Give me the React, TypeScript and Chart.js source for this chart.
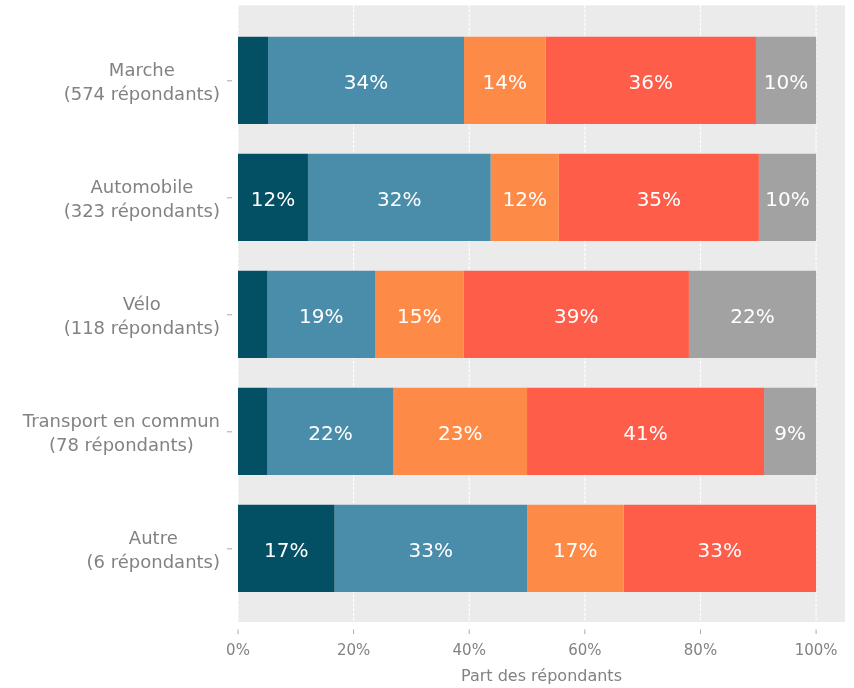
import React, { useEffect, useRef } from 'react';
import { Chart, registerables } from 'chart.js';

Chart.register(...registerables);

const categories: string[][] = [
  ['Marche', '(574 répondants)'],
  ['Automobile', '(323 répondants)'],
  ['Vélo', '(118 répondants)'],
  ['Transport en commun', '(78 répondants)'],
  ['Autre', '(6 répondants)'],
];

const seriesNames = ['Niveau 1', 'Niveau 2', 'Niveau 3', 'Niveau 4', 'Niveau 5'];
const series1 = [5.2, 12.1, 5.1, 5.1, 16.7];
const series2 = [33.9, 31.6, 18.6, 21.8, 33.3];
const series3 = [14.1, 11.8, 15.3, 23.1, 16.7];
const series4 = [36.4, 34.6, 39.0, 41.0, 33.3];
const series5 = [10.4, 9.9, 22.0, 9.0, 0];
const xTickValues = [0, 20, 40, 60, 80, 100];

const seriesColors = ['#034f63', '#4a8dab', '#fe8a48', '#fe5d4a', '#a2a2a2'];
const FONT = "'DejaVu Sans', Verdana, sans-serif";
const TEXT_GRAY = '#828282';

const panelPlugin = {
  id: 'panelPlugin',
  beforeDatasetsDraw(chart: any) {
    const { ctx, chartArea } = chart;
    const { left, right, top, bottom } = chartArea;
    const pTop = top - 16.5;
    const pBottom = bottom + 15.2;
    ctx.save();
    ctx.fillStyle = '#ebebeb';
    ctx.fillRect(left, pTop, right - left, pBottom - pTop);
    const xs = chart.scales.x;
    ctx.strokeStyle = '#ffffff';
    ctx.lineWidth = 1.2;
    ctx.setLineDash([3, 1.5]);
    xTickValues.forEach((v) => {
      const px = xs.getPixelForValue(v);
      ctx.beginPath();
      ctx.moveTo(px, pTop);
      ctx.lineTo(px, pBottom);
      ctx.stroke();
    });
    ctx.restore();
  },
  afterDraw(chart: any) {
    const { ctx, chartArea } = chart;
    const xs = chart.scales.x;
    const ys = chart.scales.y;
    ctx.save();
    ctx.strokeStyle = '#a8a8a8';
    ctx.lineWidth = 1;
    const pBottom = chartArea.bottom + 15.2;
    xTickValues.forEach((v) => {
      const px = xs.getPixelForValue(v);
      ctx.beginPath();
      ctx.moveTo(px, pBottom + 7.5);
      ctx.lineTo(px, pBottom + 12);
      ctx.stroke();
    });
    categories.forEach((_, i) => {
      const py = ys.getPixelForTick(i);
      ctx.beginPath();
      ctx.moveTo(chartArea.left - 11, py + 0.5);
      ctx.lineTo(chartArea.left - 6, py + 0.5);
      ctx.stroke();
    });
    // y-axis category labels: block right-aligned, lines centred within block
    ctx.fillStyle = TEXT_GRAY;
    ctx.font = `18px ${FONT}`;
    ctx.textAlign = 'center';
    ctx.textBaseline = 'middle';
    const lh = 24.5;
    categories.forEach((lines, i) => {
      const py = ys.getPixelForTick(i) + 2.8;
      const blockW = Math.max(...lines.map((l) => ctx.measureText(l).width));
      const cx = chartArea.left - 18 - blockW / 2;
      const startY = py - ((lines.length - 1) * lh) / 2;
      lines.forEach((l, k) => ctx.fillText(l, cx, startY + k * lh));
    });
    ctx.restore();
  },
};

const labelPlugin = {
  id: 'labelPlugin',
  afterDatasetsDraw(chart: any) {
    const { ctx } = chart;
    ctx.save();
    ctx.fillStyle = '#ffffff';
    ctx.font = `20px ${FONT}`;
    ctx.textAlign = 'center';
    ctx.textBaseline = 'middle';
    chart.data.datasets.forEach((ds: any, i: number) => {
      const meta = chart.getDatasetMeta(i);
      meta.data.forEach((el: any, j: number) => {
        const v = ds.data[j];
        if (v < 8) return;
        const c = el.getCenterPoint();
        ctx.fillText(`${Math.round(v)}%`, c.x, c.y + 3.2);
      });
    });
    ctx.restore();
  },
};

function zeroPadding(scale: any) {
  scale.paddingTop = 0;
  scale.paddingBottom = 0;
  scale.paddingLeft = 0;
  scale.paddingRight = 0;
}

export default function App() {
  const canvasRef = useRef<HTMLCanvasElement>(null);

  useEffect(() => {
    if (!canvasRef.current) return;
    const allSeries = [series1, series2, series3, series4, series5];
    const chart = new Chart(canvasRef.current, {
      type: 'bar',
      data: {
        labels: categories,
        datasets: allSeries.map((d, i) => ({
          label: seriesNames[i],
          data: d,
          backgroundColor: seriesColors[i],
          borderWidth: 0,
          categoryPercentage: 1,
          barPercentage: 0.746,
        })),
      },
      options: {
        indexAxis: 'y',
        responsive: false,
        animation: false,
        layout: { padding: { top: 21.8, right: 9, bottom: 0, left: 0 } },
        plugins: {
          legend: { display: false },
          tooltip: { enabled: false },
        },
        scales: {
          x: {
            stacked: true,
            min: 0,
            max: 105,
            grid: { display: false, drawTicks: false },
            border: { display: false },
            ticks: {
              stepSize: 20,
              includeBounds: false,
              padding: 35.5,
              color: TEXT_GRAY,
              font: { family: FONT, size: 15 },
              callback: (v: any) => `${v}%`,
            },
            title: {
              display: true,
              text: 'Part des répondants',
              color: TEXT_GRAY,
              font: { family: FONT, size: 16 },
              padding: { top: 0, bottom: 1.4 },
            },
            afterFit: (scale: any) => {
              scale.height = 81.2;
              zeroPadding(scale);
            },
          },
          y: {
            stacked: true,
            grid: { display: false, drawTicks: false },
            border: { display: false },
            ticks: { display: false },
            afterFit: (scale: any) => {
              scale.width = 238;
              zeroPadding(scale);
            },
          },
        },
      },
      plugins: [panelPlugin, labelPlugin],
    });
    return () => chart.destroy();
  }, []);

  return (
    <div style={{ position: 'fixed', left: 0, top: 0, width: 854, height: 688, background: '#ffffff' }}>
      <canvas ref={canvasRef} width={854} height={688} style={{ width: 854, height: 688, display: 'block' }} />
    </div>
  );
}
